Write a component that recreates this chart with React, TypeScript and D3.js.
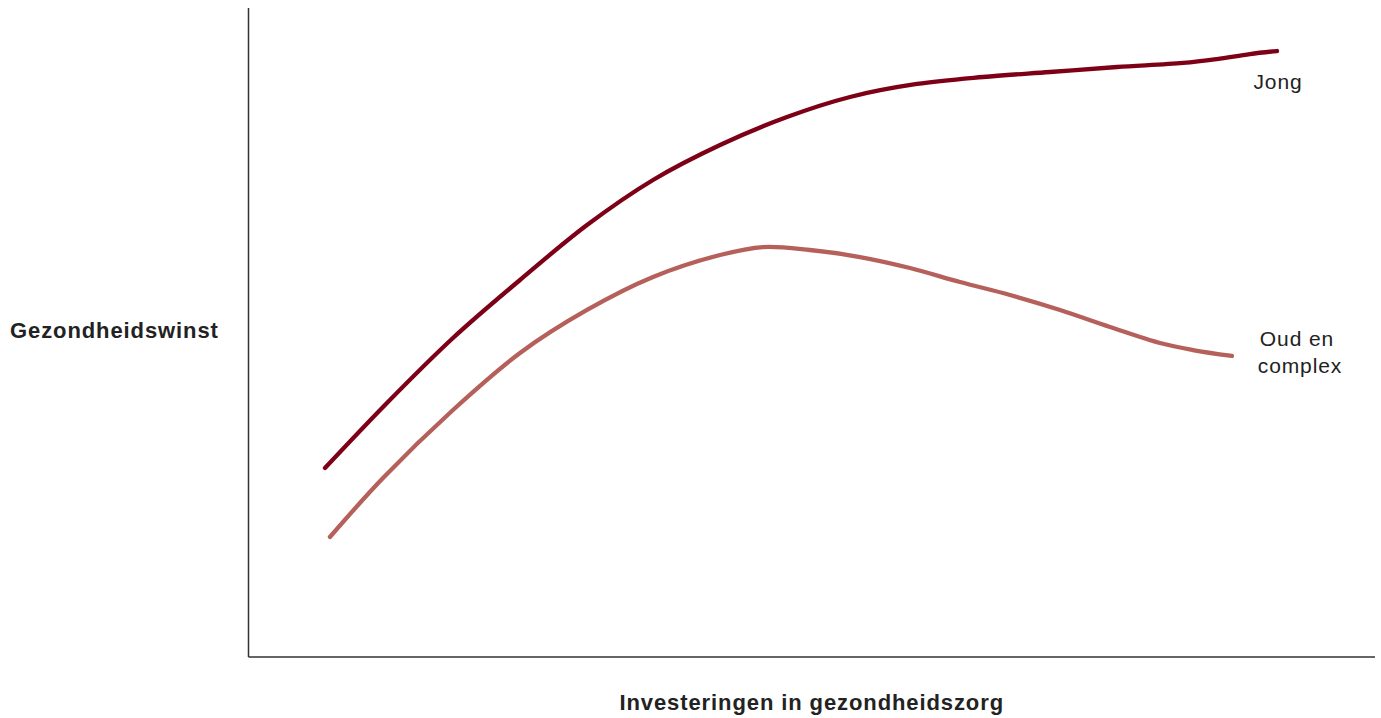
import React from "react";
import * as d3 from "d3";

const jongX = [6.79, 12.29, 18.15, 24.10, 30.05, 35.91, 41.86, 47.80, 53.40, 59.34, 65.20, 71.15, 77.10, 82.96, 85.97, 88.90, 91.30];
const jongY = [29.12, 39.14, 49.15, 58.09, 66.56, 73.50, 78.89, 83.20, 86.29, 88.29, 89.37, 90.14, 90.91, 91.53, 92.14, 92.91, 93.37];
const oudX = [7.23, 11.94, 18.15, 24.10, 30.05, 35.91, 41.86, 45.67, 49.84, 54.28, 58.72, 63.16, 67.60, 72.04, 76.48, 80.91, 83.84, 87.30];
const oudY = [18.49, 27.58, 38.06, 46.84, 53.47, 58.55, 61.94, 63.17, 62.71, 61.63, 59.94, 57.78, 55.78, 53.47, 50.85, 48.38, 47.30, 46.38];
const seriesNames = ["Jong", "Oud en complex"];
const xTitle = "Investeringen in gezondheidszorg";
const yTitle = "Gezondheidswinst";

export default function App() {
  const W = 1381, H = 718;
  const x0 = 248.5, x1 = 1375, y0 = 657, y1 = 8;
  const x = d3.scaleLinear().domain([0, 100]).range([x0, x1]);
  const y = d3.scaleLinear().domain([0, 100]).range([y0, y1]);
  const line = d3.line<[number, number]>().x(d => x(d[0])).y(d => y(d[1])).curve(d3.curveCatmullRom.alpha(0.5));
  const jong = jongX.map((v, i) => [v, jongY[i]] as [number, number]);
  const oud = oudX.map((v, i) => [v, oudY[i]] as [number, number]);
  const font = "'Liberation Sans', Arial, Helvetica, sans-serif";
  return (
    <svg width={W} height={H} style={{ position: "absolute", left: 0, top: 0 }} fontFamily={font}>
      <rect width={W} height={H} fill="#fff" />
      <line x1={x0} x2={x0} y1={y1} y2={y0} stroke="#333" strokeWidth={1.5} />
      <line x1={x0} x2={x1} y1={y0} y2={y0} stroke="#333" strokeWidth={1.5} />
      <path d={line(jong) || ""} fill="none" stroke="#7d0016" strokeWidth={4.3} strokeLinecap="round" />
      <path d={line(oud) || ""} fill="none" stroke="#b5605a" strokeWidth={4.3} strokeLinecap="round" />
      <g fontSize={21} fill="#222" letterSpacing={0.9} textAnchor="middle">
        <text x={1278} y={89}>{seriesNames[0]}</text>
        <text x={1297} y={346}>Oud en</text>
        <text x={1300} y={373}>complex</text>
      </g>
      <g fontSize={22} fontWeight="bold" fill="#222" letterSpacing={0.9}>
        <text x={10} y={338}>{yTitle}</text>
        <text x={(x0 + x1) / 2} y={710} textAnchor="middle">{xTitle}</text>
      </g>
    </svg>
  );
}
